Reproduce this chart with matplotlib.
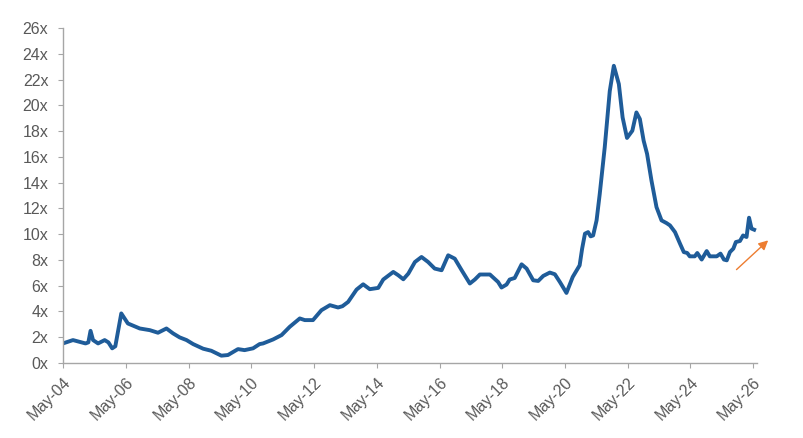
import matplotlib
matplotlib.use("Agg")
import matplotlib.pyplot as plt
import numpy as np

# decimal year (May = +4/12) and multiple
years = [2004.33, 2004.65, 2005.05, 2005.14, 2005.21, 2005.29, 2005.45, 2005.66, 2005.78, 2005.9,
         2006.0, 2006.19, 2006.4, 2006.78, 2007.1, 2007.36, 2007.63, 2007.84, 2008.05, 2008.27,
         2008.48, 2008.8, 2009.06, 2009.38, 2009.59, 2009.91, 2010.12, 2010.39, 2010.6, 2010.71,
         2011.03, 2011.3, 2011.56, 2011.88, 2012.04, 2012.3, 2012.57, 2012.84, 2013.1, 2013.24,
         2013.42, 2013.69, 2013.9, 2014.11, 2014.38, 2014.54, 2014.86, 2015.02, 2015.18, 2015.34,
         2015.55, 2015.76, 2015.97, 2016.18, 2016.4, 2016.61, 2016.82, 2017.04, 2017.3, 2017.46,
         2017.62, 2017.94, 2018.2, 2018.31, 2018.47, 2018.57, 2018.73, 2018.95, 2019.11, 2019.32,
         2019.48, 2019.64, 2019.85, 2020.01, 2020.17, 2020.38, 2020.58, 2020.8, 2020.88, 2020.97,
         2021.07, 2021.15, 2021.23, 2021.34, 2021.44, 2021.6, 2021.76, 2021.89, 2022.05, 2022.17,
         2022.31, 2022.48, 2022.61, 2022.72, 2022.84, 2022.95, 2023.09, 2023.25, 2023.41, 2023.57,
         2023.68, 2023.84, 2024.0, 2024.12, 2024.23, 2024.31, 2024.47, 2024.55, 2024.69, 2024.85,
         2024.95, 2025.17, 2025.29, 2025.4, 2025.49, 2025.59, 2025.7, 2025.78, 2025.91, 2026.01,
         2026.12, 2026.2, 2026.28, 2026.42]
multiple = [1.52, 1.78, 1.52, 1.6, 2.5, 1.78, 1.52, 1.78, 1.6, 1.14,
            1.3, 3.85, 3.07, 2.68, 2.55, 2.35, 2.68, 2.3, 1.99, 1.78,
            1.47, 1.11, 0.95, 0.57, 0.62, 1.08, 1.0, 1.14, 1.47, 1.52,
            1.83, 2.17, 2.81, 3.46, 3.33, 3.33, 4.1, 4.49, 4.31, 4.41,
            4.74, 5.7, 6.11, 5.73, 5.83, 6.48, 7.07, 6.81, 6.5, 6.94,
            7.84, 8.23, 7.84, 7.33, 7.2, 8.36, 8.1, 7.2, 6.17, 6.48,
            6.87, 6.87, 6.29, 5.86, 6.09, 6.48, 6.6, 7.66, 7.33, 6.42,
            6.37, 6.76, 7.02, 6.89, 6.29, 5.44, 6.68, 7.58, 8.88, 10.04,
            10.16, 9.83, 9.9, 11.07, 13.1, 16.74, 21.1, 23.07, 21.65, 19.06,
            17.47, 18.03, 19.45, 18.94, 17.26, 16.23, 14.16, 12.1, 11.07, 10.86,
            10.68, 10.16, 9.26, 8.61, 8.54, 8.28, 8.28, 8.54, 8.03, 8.69,
            8.28, 8.28, 8.49, 8.03, 7.97, 8.61, 8.88, 9.39, 9.47, 9.9,
            9.78, 11.28, 10.43, 10.29]

tick_years = [2004 + 4 / 12 + 2 * i for i in range(12)]
tick_labels = ["May-%02d" % (4 + 2 * i) for i in range(12)]
y_ticks = list(range(0, 27, 2))

# arrow start / end (year, multiple)
arrow_from = (2025.8, 7.25)
arrow_to = (2026.81, 9.52)

line_color = "#1f5c99"
grey = "#595959"
spine_grey = "#a6a6a6"

plt.rcParams["font.family"] = ["Liberation Sans", "DejaVu Sans"]

fig = plt.figure(figsize=(8.04, 4.38), dpi=100)
ax = fig.add_axes([0.0784, 0.1712, 0.863, 0.7648])

ax.plot(years, multiple, color=line_color, lw=2.8, solid_joinstyle="round",
        solid_capstyle="butt")

ax.set_xlim(tick_years[0], 2026.45)
ax.set_ylim(0, 26)
ax.set_xticks(tick_years)
ax.set_xticklabels(tick_labels, rotation=45, ha="right", rotation_mode="anchor")
ax.set_yticks(y_ticks)
ax.set_yticklabels(["%dx" % v for v in y_ticks])

for s in ["top", "right"]:
    ax.spines[s].set_visible(False)
for s in ["left", "bottom"]:
    ax.spines[s].set_color(spine_grey)
    ax.spines[s].set_linewidth(1.0)

ax.tick_params(axis="y", length=3.6, color=spine_grey, labelcolor=grey,
               labelsize=11.5, pad=7)
ax.tick_params(axis="x", length=3.6, color=spine_grey, labelcolor=grey,
               labelsize=11.5, pad=5)

ax.annotate("", xy=arrow_to, xytext=arrow_from, annotation_clip=False,
            arrowprops=dict(arrowstyle="-|>", color="#ed7d31", lw=1.0,
                            mutation_scale=14, shrinkA=0, shrinkB=0))

fig.savefig("out.png", dpi=100)
